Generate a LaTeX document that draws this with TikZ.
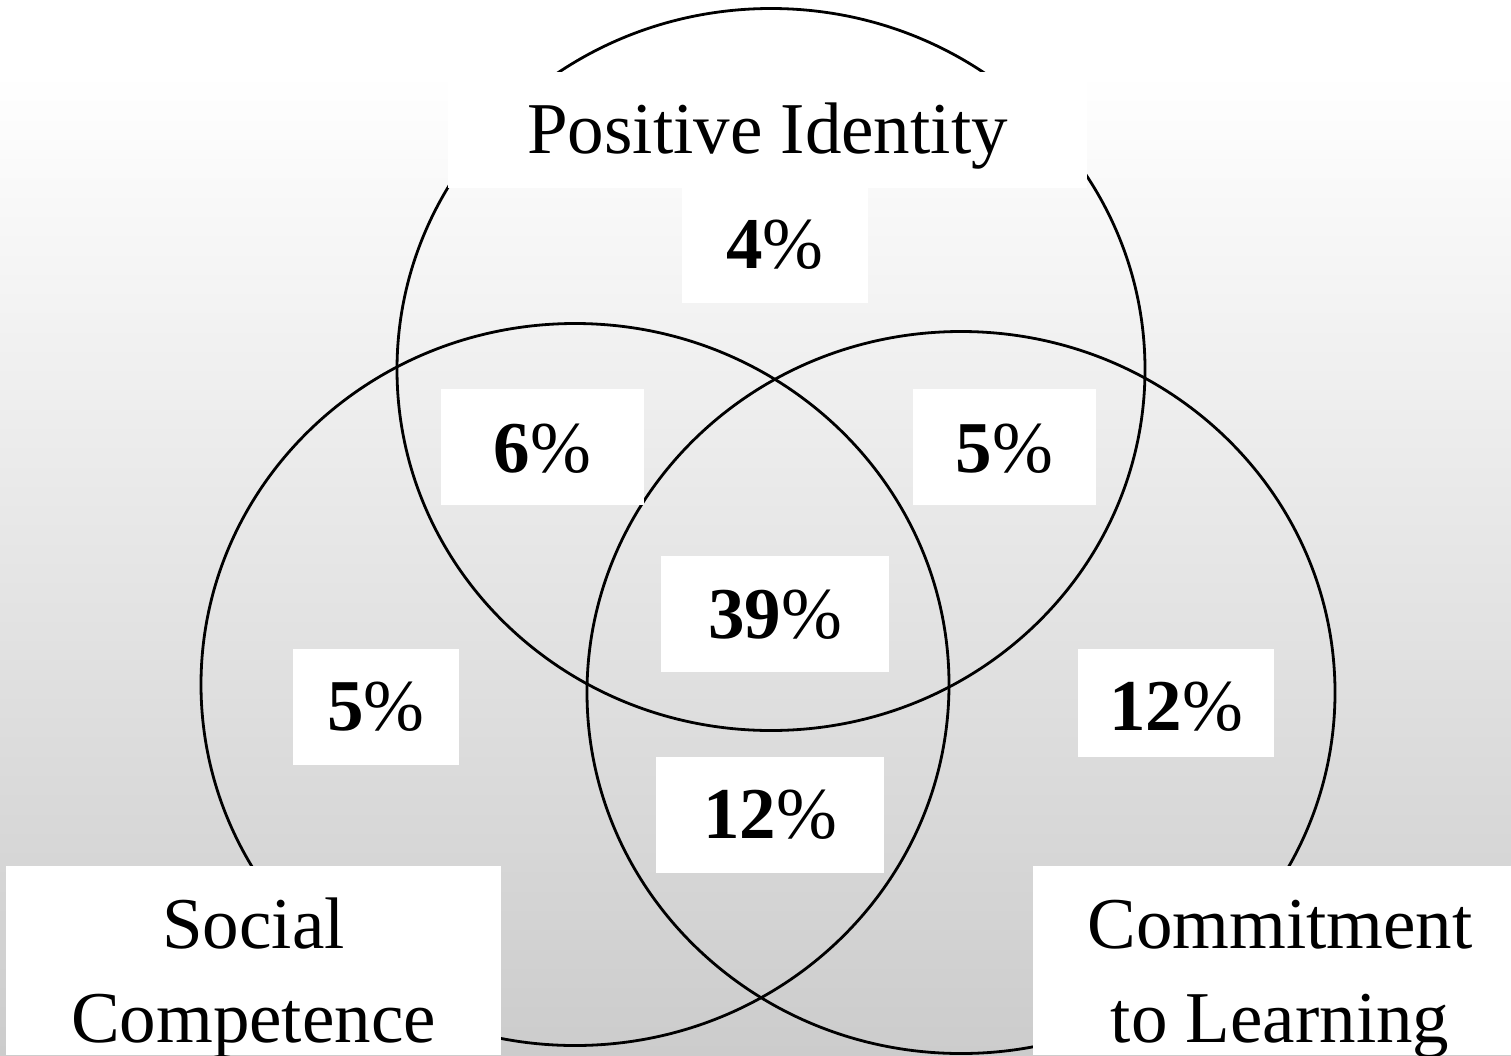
\documentclass[tikz,border=0pt]{standalone}
\usepackage{fontspec}
\setmainfont{Liberation Serif}
\begin{document}
\begin{tikzpicture}[x=1pt,y=-1pt,
  ring/.style={draw=black, line width=2.8pt},
  tag/.style={fill=white, inner sep=0pt, anchor=base,
    font=\fontsize{73}{94}\selectfont},
]
\useasboundingbox (0,0) rectangle (1511,1055);
\clip (0,0) rectangle (1511,1055);

% background: white band on top, then a soft grey gradient
\fill[white] (0,0) rectangle (1511,72);
\shade[top color=white, bottom color=black!20] (0,72) rectangle (1511,1055);

% the three sets
\draw[ring] (771,369.5) ellipse [x radius=374, y radius=361];
\draw[ring] (575,684.5) ellipse [x radius=374, y radius=361];
\draw[ring] (961,692.5) ellipse [x radius=374, y radius=361];

% set names
\node[tag, minimum width=639pt, text height=81pt, text depth=35pt]
  (identity) at (767.5,153) {Positive Identity};
\node[tag, minimum width=495pt, text height=176pt, text depth=13pt]
  (social) at (253.5,1042)
  {\begin{tabular}[b]{@{}c@{}}Social\\Competence\end{tabular}};
\node[tag, minimum width=494pt, text height=176pt, text depth=13pt]
  (learning) at (1280,1042)
  {\begin{tabular}[b]{@{}c@{}}Commitment\\to Learning\end{tabular}};

% region shares
\node[tag, minimum width=186pt, text height=80pt, text depth=35pt]
  (onlyI) at (775,268) {\textbf{4}\%};
\node[tag, minimum width=203pt, text height=83pt, text depth=33pt]
  (IS) at (542.5,472) {\textbf{6}\%};
\node[tag, minimum width=183pt, text height=83pt, text depth=33pt]
  (IL) at (1004.5,472) {\textbf{5}\%};
\node[tag, minimum width=228pt, text height=82pt, text depth=34pt]
  (ISL) at (775,638) {\textbf{39}\%};
\node[tag, minimum width=166pt, text height=81pt, text depth=35pt]
  (onlyS) at (376,730) {\textbf{5}\%};
\node[tag, minimum width=196pt, text height=81pt, text depth=27pt]
  (onlyL) at (1176,730) {\textbf{12}\%};
\node[tag, minimum width=228pt, text height=81pt, text depth=35pt]
  (SL) at (770,838) {\textbf{12}\%};
\end{tikzpicture}
\end{document}
